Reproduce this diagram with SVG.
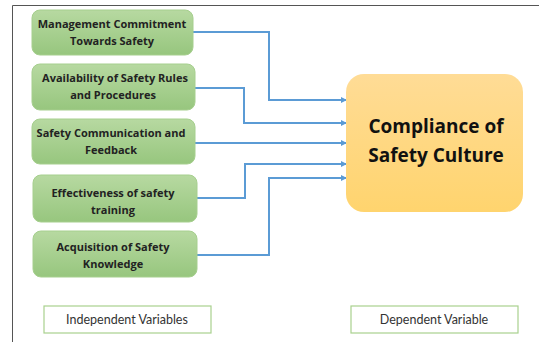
<svg xmlns="http://www.w3.org/2000/svg" width="539" height="342" viewBox="0 0 539 342">
<defs>
<linearGradient id="g" x1="0" y1="0" x2="0" y2="1"><stop offset="0" stop-color="#b7d9a1"/><stop offset="1" stop-color="#97c67e"/></linearGradient>
<linearGradient id="o" x1="0" y1="0" x2="0" y2="1"><stop offset="0" stop-color="#ffdc96"/><stop offset="1" stop-color="#ffd46e"/></linearGradient>
<marker id="a" markerWidth="6" markerHeight="6" refX="5" refY="3" orient="auto" markerUnits="userSpaceOnUse"><path d="M0,0 L6,3 L0,6 z" fill="#5b9bd5"/></marker>
<style>
.gb{fill:url(#g);stroke:#a6cf8e;stroke-width:1}
.t{font-family:"Open Sans","Liberation Sans",sans-serif;font-weight:bold;font-size:11px;fill:#222;text-anchor:middle}
.c{fill:none;stroke:#5b9bd5;stroke-width:2;marker-end:url(#a)}
.lb{fill:#fff;stroke:#a9d18e;stroke-width:1.2}
.lt{font-family:"Lato","Liberation Sans",sans-serif;font-size:12.5px;fill:#333;text-anchor:middle}
</style>
</defs>
<rect width="539" height="342" fill="#fff"/>
<path d="M12.5,342 V5.5 H539" fill="none" stroke="#555" stroke-width="1"/>
<g id="connectors">
<path class="c" d="M193,32 H269 V100 H346"/>
<path class="c" d="M195,88 H244 V123 H346"/>
<path class="c" d="M195,143 H346"/>
<path class="c" d="M197,198 H245 V164 H346"/>
<path class="c" d="M197,255 H269 V178 H346"/>
</g>
<g id="n1"><rect class="gb" x="32" y="10" width="161" height="45" rx="8"/><text class="t" x="112" y="28">Management Commitment</text><text class="t" x="112" y="45">Towards Safety</text></g>
<g id="n2"><rect class="gb" x="32" y="64" width="163" height="46" rx="8"/><text class="t" x="115" y="82">Availability of Safety Rules</text><text class="t" x="113" y="99">and Procedures</text></g>
<g id="n3"><rect class="gb" x="32" y="119" width="163" height="45" rx="8"/><text class="t" x="111" y="137">Safety Communication and</text><text class="t" x="111" y="154">Feedback</text></g>
<g id="n4"><rect class="gb" x="33" y="175" width="164" height="47" rx="8"/><text class="t" x="113" y="197">Effectiveness of safety</text><text class="t" x="113" y="214">training</text></g>
<g id="n5"><rect class="gb" x="33" y="231" width="164" height="46" rx="8"/><text class="t" x="113" y="251">Acquisition of Safety</text><text class="t" x="113" y="268">Knowledge</text></g>
<g id="target"><rect x="346" y="74" width="177" height="138" rx="18" fill="url(#o)"/><text x="436" y="133" font-family="'Open Sans','Liberation Sans',sans-serif" font-weight="bold" font-size="19" fill="#111" text-anchor="middle">Compliance of</text><text x="436" y="162" font-family="'Open Sans','Liberation Sans',sans-serif" font-weight="bold" font-size="19" fill="#111" text-anchor="middle">Safety Culture</text></g>
<g id="l1"><rect class="lb" x="44" y="306" width="167" height="27"/><text class="lt" x="127" y="324">Independent Variables</text></g>
<g id="l2"><rect class="lb" x="351" y="306" width="167" height="27"/><text class="lt" x="434" y="324">Dependent Variable</text></g>
</svg>
